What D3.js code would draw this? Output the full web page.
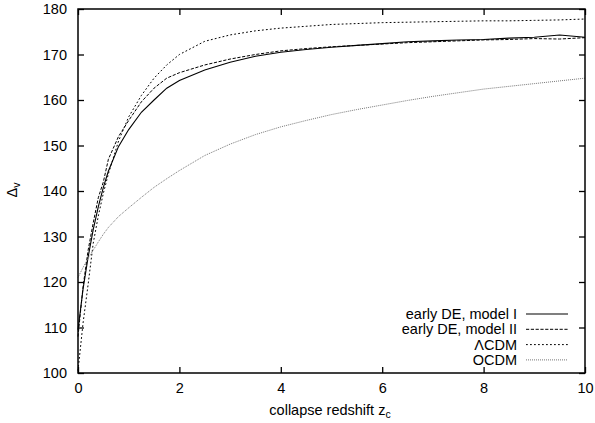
<!DOCTYPE html>
<html>
<head>
<meta charset="utf-8">
<script src="https://cdn.jsdelivr.net/npm/d3@7"></script>
<style>
  html, body { margin: 0; padding: 0; background: #fff; }
  svg { display: block; font-family: "Liberation Sans", Arial, Helvetica, sans-serif; }
</style>
</head>
<body>
<svg id="chart" width="595" height="423"></svg>
<script>
// collapse redshift grid
const zc = [0, 0.1, 0.2, 0.3, 0.4, 0.5, 0.6, 0.8, 1.0, 1.25, 1.5, 1.75, 2.0, 2.5, 3.0, 3.5,
            4.0, 4.5, 5.0, 5.5, 6.0, 6.5, 7.0, 7.5, 8.0, 8.5, 9.0, 9.5, 10.0];

// virial overdensity for each cosmology
const earlyDE1 = [109.5, 118.5, 125.5, 131.5, 136.5, 140.8, 144.4, 149.8, 153.5, 157.3, 160.0, 162.6, 164.3,
                  166.6, 168.3, 169.6, 170.5, 171.1, 171.6, 172.0, 172.4, 172.8, 173.0, 173.2, 173.3,
                  173.6, 173.8, 174.3, 173.8];
const earlyDE2 = [108.0, 119.0, 127.0, 133.0, 138.5, 142.0, 147.0, 152.0, 155.5, 159.6, 162.6, 164.8, 166.0,
                  167.7, 169.0, 170.0, 170.8, 171.3, 171.7, 172.0, 172.3, 172.6, 172.8, 173.0, 173.2,
                  173.3, 173.5, 173.4, 173.7];
const lcdm     = [100.5, 111.0, 119.5, 128.5, 134.5, 139.5, 143.8, 151.0, 156.3, 161.0, 164.8, 167.7, 170.0,
                  172.9, 174.3, 175.2, 175.8, 176.2, 176.6, 176.8, 177.0, 177.1, 177.2, 177.3, 177.4,
                  177.4, 177.5, 177.6, 177.8];
const ocdm     = [121.0, 123.2, 125.2, 127.0, 128.8, 130.5, 132.0, 134.4, 136.3, 138.6, 140.8, 142.7, 144.5,
                  147.8, 150.3, 152.4, 154.1, 155.5, 156.8, 157.9, 158.9, 159.9, 160.8, 161.6, 162.4,
                  163.0, 163.6, 164.2, 164.8];

const seriesNames = ["early DE, model I", "early DE, model II", "\u039BCDM", "OCDM"];
const xTicks = [0, 2, 4, 6, 8, 10];
const yTicks = [100, 110, 120, 130, 140, 150, 160, 170, 180];

const styles = [
  { stroke: "#000", dash: null, width: 1.1 },
  { stroke: "#000", dash: "3.2,1.6", width: 1.0 },
  { stroke: "#000", dash: "1.8,2.2", width: 1.0 },
  { stroke: "#777", dash: "1,1", width: 1.0 }
];

const plot = { left: 78, right: 585, top: 9, bottom: 373 };
const svg = d3.select("#chart");

const x = d3.scaleLinear().domain([0, 10]).range([plot.left, plot.right]);
const y = d3.scaleLinear().domain([100, 180]).range([plot.bottom, plot.top]);

const allSeries = [earlyDE1, earlyDE2, lcdm, ocdm];

// curves
const line = d3.line().x(d => x(d[0])).y(d => y(d[1]));
const curves = svg.append("g");
allSeries.forEach((vals, i) => {
  const pts = zc.map((z, k) => [z, vals[k]]);
  curves.append("path")
    .attr("d", line(pts))
    .attr("fill", "none")
    .attr("stroke", styles[i].stroke)
    .attr("stroke-width", styles[i].width)
    .attr("stroke-dasharray", styles[i].dash);
});

// axes with inward ticks on all four sides
const tickLen = 6;
const fontSize = 14.5;
const bottomAxis = d3.axisBottom(x).tickValues(xTicks).tickSizeInner(-tickLen).tickSizeOuter(0).tickPadding(10);
const topAxis = d3.axisTop(x).tickValues(xTicks).tickSizeInner(-tickLen).tickSizeOuter(0).tickFormat("");
const leftAxis = d3.axisLeft(y).tickValues(yTicks).tickSizeInner(-tickLen).tickSizeOuter(0).tickPadding(11);
const rightAxis = d3.axisRight(y).tickValues(yTicks).tickSizeInner(-tickLen).tickSizeOuter(0).tickFormat("");

function styleAxis(g) {
  g.select(".domain").remove();
  g.selectAll(".tick line").attr("stroke", "#000").attr("stroke-width", 1.3);
  g.selectAll(".tick text").attr("fill", "#000").style("font-size", fontSize + "px")
    .style("font-family", "'Liberation Sans', Arial, sans-serif");
}

svg.append("g").attr("transform", `translate(0,${plot.bottom})`).call(bottomAxis).call(styleAxis);
svg.append("g").attr("transform", `translate(0,${plot.top})`).call(topAxis).call(styleAxis);
svg.append("g").attr("transform", `translate(${plot.left},0)`).call(leftAxis).call(styleAxis);
svg.append("g").attr("transform", `translate(${plot.right},0)`).call(rightAxis).call(styleAxis);

// frame
svg.append("rect")
  .attr("x", plot.left).attr("y", plot.top)
  .attr("width", plot.right - plot.left).attr("height", plot.bottom - plot.top)
  .attr("fill", "none").attr("stroke", "#000").attr("stroke-width", 1.5);

// axis titles
const xTitle = svg.append("text")
  .attr("x", 330).attr("y", 415)
  .attr("text-anchor", "middle")
  .style("font-size", fontSize + "px");
xTitle.append("tspan").text("collapse redshift z");
xTitle.append("tspan").attr("dy", 3).style("font-size", "10.5px").text("c");

const yTitle = svg.append("text")
  .attr("transform", "translate(17,190) rotate(-90)")
  .attr("text-anchor", "middle")
  .style("font-size", fontSize + "px");
yTitle.append("tspan").text("\u0394");
yTitle.append("tspan").attr("dy", 3).style("font-size", "10.5px").text("v");

// legend
const legend = svg.append("g");
seriesNames.forEach((name, i) => {
  const cy = 314 + i * 15.3;
  legend.append("text")
    .attr("x", 517).attr("y", cy + 5)
    .attr("text-anchor", "end")
    .style("font-size", fontSize + "px")
    .text(name);
  legend.append("line")
    .attr("x1", 526).attr("x2", 568)
    .attr("y1", cy).attr("y2", cy)
    .attr("stroke", styles[i].stroke)
    .attr("stroke-width", styles[i].width)
    .attr("stroke-dasharray", styles[i].dash);
});
</script>
</body>
</html>
